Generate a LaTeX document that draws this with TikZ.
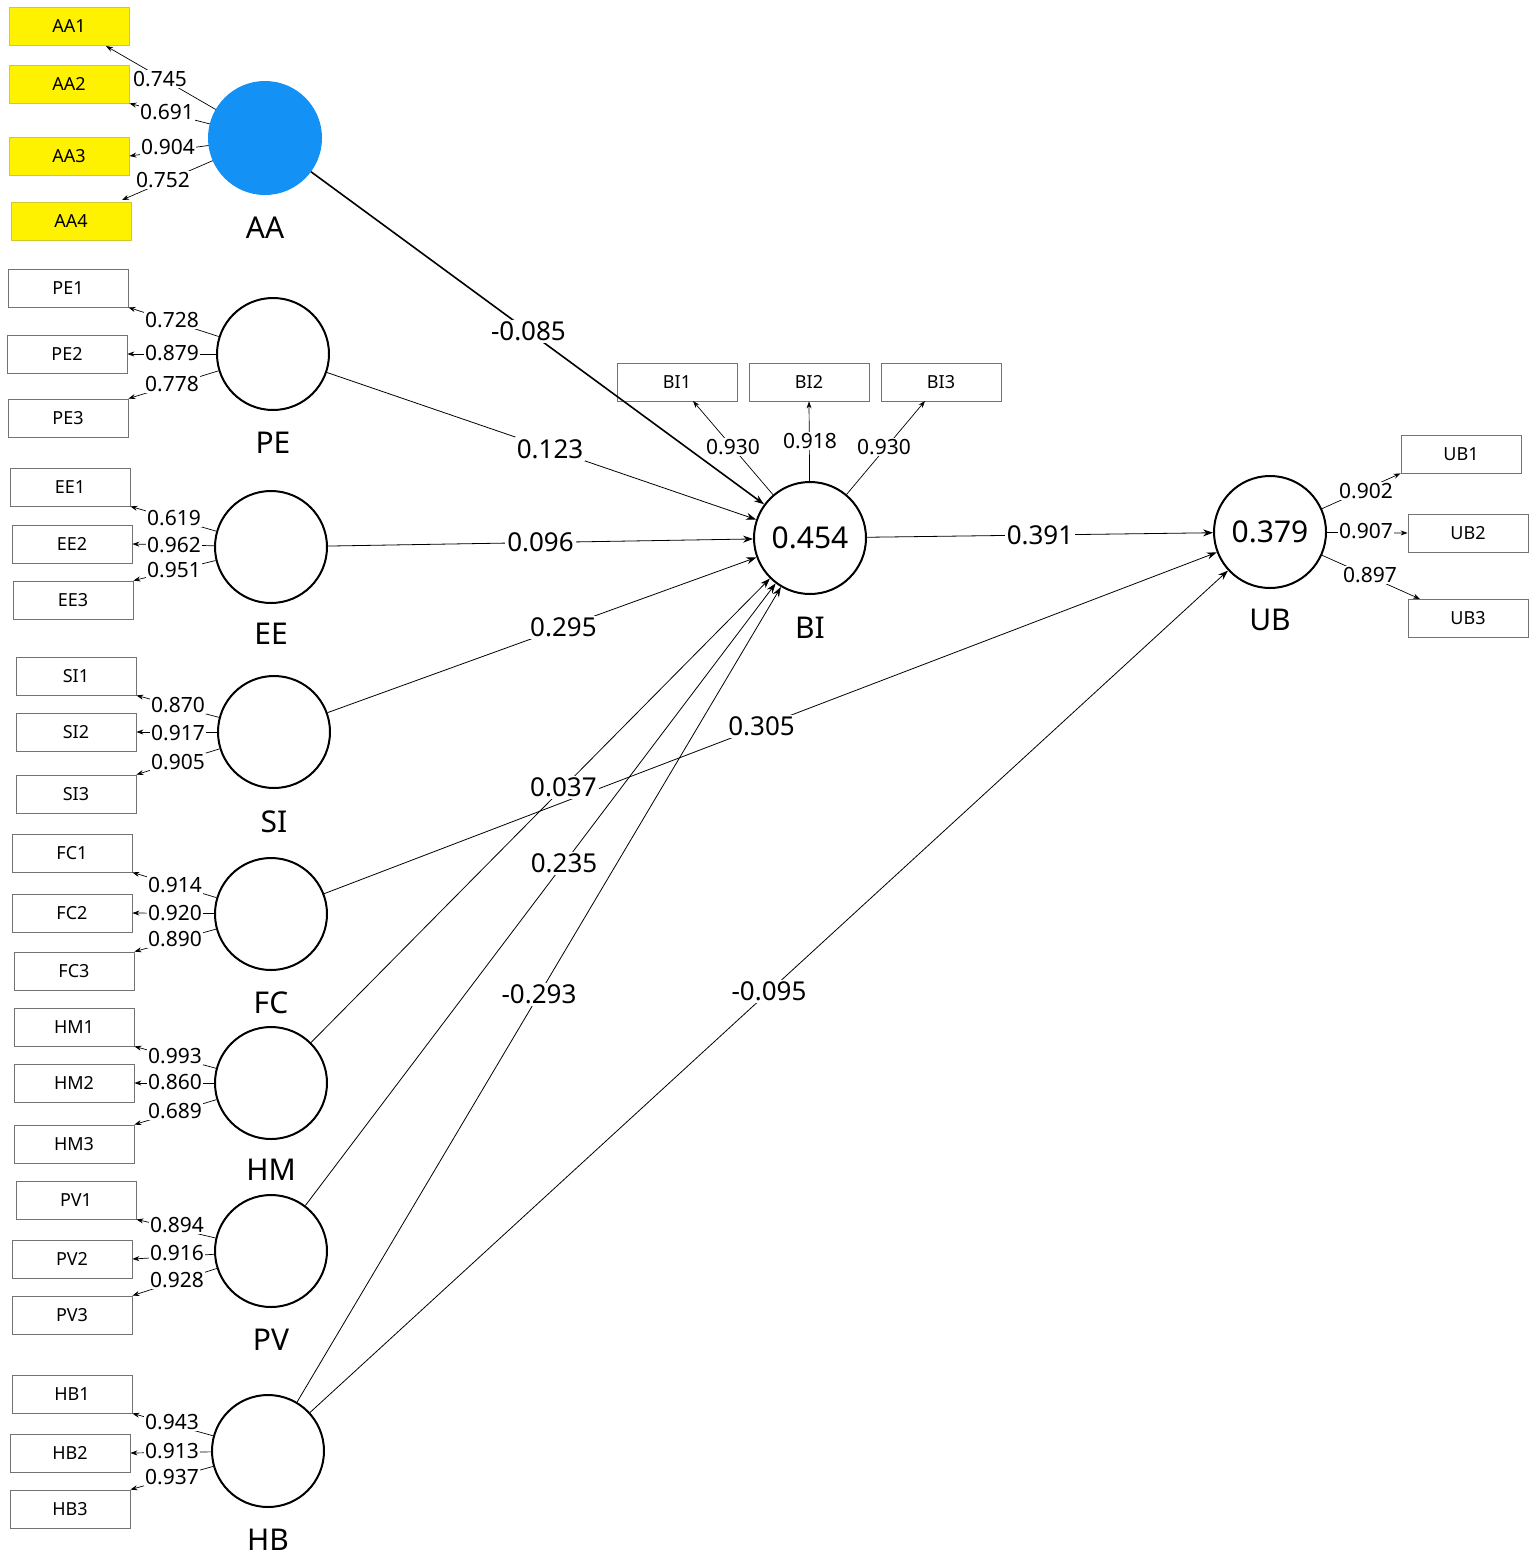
\documentclass[tikz,border=0pt]{standalone}
\usepackage{fontspec}
\setmainfont{Noto Sans}
\usetikzlibrary{arrows.meta}
\tikzset{
 lv/.style={circle,draw,line width=2pt,minimum size=112pt,inner sep=0pt,font=\fontsize{30}{30}\selectfont\bfseries},
 ind/.style={draw=black!55,line width=0.8pt,minimum width=120pt,minimum height=38pt,inner sep=0pt,font=\fontsize{18}{18}\selectfont},
 yind/.style={ind,fill=yellow,draw=yellow!80!black},
 nm/.style={font=\fontsize{30}{30}\selectfont\bfseries},
 ld/.style={line width=0.7pt,-{Stealth[length=7pt,width=5pt]}},
 pth/.style={line width=0.8pt,-{Stealth[length=10pt,width=7pt]}},
 lw/.style={fill=white,inner sep=1pt,font=\fontsize{21}{21}\selectfont\bfseries},
 pw/.style={fill=white,inner sep=2pt,font=\fontsize{26}{26}\selectfont\bfseries}
}
\begin{document}
\begin{tikzpicture}[x=1pt,y=-1pt]
\useasboundingbox (0,0) rectangle (1535,1558);
% constructs
\node[lv,fill={rgb,255:red,20;green,145;blue,245},draw={rgb,255:red,20;green,145;blue,245}] (AA) at (265,138) {};
\node[lv] (PE) at (273,354) {};
\node[lv] (EE) at (271,547) {};
\node[lv] (SI) at (274,732) {};
\node[lv] (FC) at (271,914) {};
\node[lv] (HM) at (271,1083) {};
\node[lv] (PV) at (271,1251) {};
\node[lv] (HB) at (268,1451) {};
\node[lv] (BI) at (810,538) {0.454};
\node[lv] (UB) at (1270,532) {0.379};
\node[nm] (lAA) at (265,228) {AA};
\node[nm] (lPE) at (273,443) {PE};
\node[nm] (lEE) at (271,634) {EE};
\node[nm] (lSI) at (274,822) {SI};
\node[nm] (lFC) at (271,1003) {FC};
\node[nm] (lHM) at (271,1170) {HM};
\node[nm] (lPV) at (271,1340) {PV};
\node[nm] (lHB) at (268,1540) {HB};
\node[nm] (lBI) at (810,628) {BI};
\node[nm] (lUB) at (1270,620) {UB};
% indicators
\node[yind] (AA1) at (69,26) {AA1};
\node[yind] (AA2) at (69,84) {AA2};
\node[yind] (AA3) at (69,156) {AA3};
\node[yind] (AA4) at (71,221) {AA4};
\node[ind] (PE1) at (68,288) {PE1};
\node[ind] (PE2) at (67,354) {PE2};
\node[ind] (PE3) at (68,418) {PE3};
\node[ind] (EE1) at (70,487) {EE1};
\node[ind] (EE2) at (72,544) {EE2};
\node[ind] (EE3) at (73,600) {EE3};
\node[ind] (SI1) at (76,676) {SI1};
\node[ind] (SI2) at (76,732) {SI2};
\node[ind] (SI3) at (76,794) {SI3};
\node[ind] (FC1) at (72,853) {FC1};
\node[ind] (FC2) at (72,913) {FC2};
\node[ind] (FC3) at (74,971) {FC3};
\node[ind] (HM1) at (74,1027) {HM1};
\node[ind] (HM2) at (74,1083) {HM2};
\node[ind] (HM3) at (74,1144) {HM3};
\node[ind] (PV1) at (76,1200) {PV1};
\node[ind] (PV2) at (72,1259) {PV2};
\node[ind] (PV3) at (72,1315) {PV3};
\node[ind] (HB1) at (72,1394) {HB1};
\node[ind] (HB2) at (70,1453) {HB2};
\node[ind] (HB3) at (70,1509) {HB3};
\node[ind] (BI1) at (677,382) {BI1};
\node[ind] (BI2) at (809,382) {BI2};
\node[ind] (BI3) at (941,382) {BI3};
\node[ind] (UB1) at (1461,454) {UB1};
\node[ind] (UB2) at (1468,533) {UB2};
\node[ind] (UB3) at (1468,618) {UB3};
% loadings
\coordinate (tAA1) at (106,46);
\coordinate (tAA4) at (122,200);
\draw[ld] (AA) -- (tAA1);
\draw[ld] (AA) -- (AA2.south east);
\draw[ld] (AA) -- (AA3.east);
\draw[ld] (AA) -- (tAA4);
\node[lw] at (160,79) {0.745};
\node[lw] at (167,112) {0.691};
\node[lw] at (168,147) {0.904};
\node[lw] at (163,180) {0.752};
\foreach \c/\ya/\yb/\yc/\xa/\va/\vb/\vc in {PE/320/353/384/172/0.728/0.879/0.778, EE/518/545/570/174/0.619/0.962/0.951, SI/705/733/762/178/0.870/0.917/0.905, FC/885/913/939/175/0.914/0.920/0.890, HM/1056/1082/1111/175/0.993/0.860/0.689, PV/1225/1253/1280/177/0.894/0.916/0.928, HB/1422/1451/1477/172/0.943/0.913/0.937}{
 \draw[ld] (\c) -- (\c1.south east);
 \draw[ld] (\c) -- (\c2.east);
 \draw[ld] (\c) -- (\c3.north east);
 \node[lw] at (\xa,\ya) {\va};
 \node[lw] at (\xa,\yb) {\vb};
 \node[lw] at (\xa,\yc) {\vc};
}
\coordinate (tBI1) at (693,401);
\coordinate (tBI3) at (925,401);
\draw[ld] (BI) -- (tBI1);
\draw[ld] (BI) -- (BI2.south);
\draw[ld] (BI) -- (tBI3);
\node[lw] at (733,447) {0.930};
\node[lw] at (810,441) {0.918};
\node[lw] at (884,447) {0.930};
\coordinate (tUB3) at (1420,599);
\draw[ld] (UB) -- (UB1.south west);
\draw[ld] (UB) -- (UB2.west);
\draw[ld] (UB) -- (tUB3);
\node[lw] at (1366,491) {0.902};
\node[lw] at (1366,531) {0.907};
\node[lw] at (1370,575) {0.897};
% paths
\draw[pth,line width=1.6pt] (AA) -- (BI) node[pw,pos=0.48] {-0.085};
\draw[pth] (PE) -- (BI) node[pw,pos=0.52] {0.123};
\draw[pth] (EE) -- (BI) node[pw,pos=0.5] {0.096};
\draw[pth] (SI) -- (BI) node[pw,pos=0.55] {0.295};
\draw[pth] (FC) -- (UB) node[pw,pos=0.49] {0.305};
\draw[pth] (HM) -- (BI) node[pw,pos=0.55] {0.037};
\draw[pth] (PV) -- (BI) node[pw,pos=0.55] {0.235};
\draw[pth] (HB) -- (BI) node[pw,pos=0.5] {-0.293};
\draw[pth] (HB) -- (UB) node[pw,pos=0.5] {-0.095};
\draw[pth] (BI) -- (UB) node[pw,pos=0.5] {0.391};
\end{tikzpicture}
\end{document}
